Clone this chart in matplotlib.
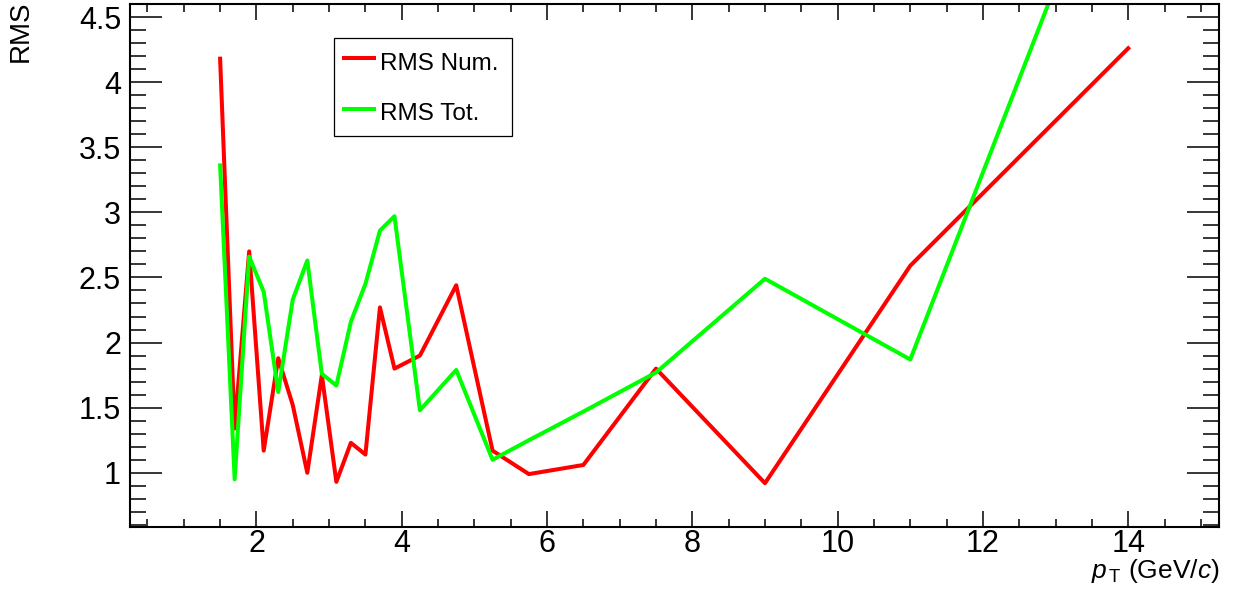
"""RMS of numerator and total versus pT."""

import matplotlib

matplotlib.use("Agg")
import matplotlib.pyplot as plt
from matplotlib.ticker import FormatStrFormatter, MultipleLocator

pt_bins = [1.5, 1.7, 1.9, 2.1, 2.3, 2.5, 2.7, 2.9, 3.1, 3.3, 3.5, 3.7, 3.9,
           4.25, 4.75, 5.25, 5.75, 6.5, 7.5, 9.0, 11.0, 14.0]
rms_num = [4.18, 1.34, 2.70, 1.17, 1.88, 1.52, 1.00, 1.75, 0.93, 1.23, 1.14,
           2.27, 1.80, 1.90, 2.44, 1.17, 0.99, 1.06, 1.80, 0.92, 2.59, 4.26]
rms_tot = [3.36, 0.95, 2.66, 2.39, 1.62, 2.33, 2.63, 1.76, 1.67, 2.16, 2.45,
           2.86, 2.97, 1.48, 1.79, 1.10, 1.25, 1.47, 1.77, 2.49, 1.87, 6.18]

plt.rcParams["font.family"] = ["Liberation Sans", "DejaVu Sans"]
plt.rcParams["mathtext.fontset"] = "custom"
plt.rcParams["mathtext.it"] = "Liberation Sans:italic"
plt.rcParams["mathtext.rm"] = "Liberation Sans"

fig = plt.figure(figsize=(12.42, 5.95), dpi=100)
ax = fig.add_axes([0.1047, 0.1148, 0.8768, 0.8785])

ax.plot(pt_bins, rms_num, color="#ff0000", lw=2.9, label="RMS Num.")
ax.plot(pt_bins, rms_tot, color="#00ff00", lw=2.9, label="RMS Tot.")

ax.set_xlim(0.26, 15.25)
ax.set_ylim(0.586, 4.6)

ax.xaxis.set_major_locator(MultipleLocator(2))
ax.xaxis.set_minor_locator(MultipleLocator(0.5))
ax.yaxis.set_major_locator(MultipleLocator(0.5))
ax.yaxis.set_minor_locator(MultipleLocator(0.1))
ax.yaxis.set_major_formatter(FormatStrFormatter("%g"))

ax.tick_params(which="both", direction="in", top=True, right=True,
               width=1.1, labelsize=22)
ax.tick_params(axis="x", which="major", length=11.5, pad=2)
ax.tick_params(axis="x", which="minor", length=5.8)
ax.tick_params(axis="y", which="major", length=23, pad=6.5)
ax.tick_params(axis="y", which="minor", length=11.5)
for spine in ax.spines.values():
    spine.set_linewidth(1.5)

ax.set_xlabel(r"$p_{\,\mathrm{T}}$ (GeV/$c$)", fontsize=19, loc="right")
ax.xaxis.set_label_coords(1.0, -0.058)
ax.set_ylabel("RMS", fontsize=20, loc="top")
ax.yaxis.set_label_coords(-0.088, 1.006)

leg = ax.legend(loc="upper left", bbox_to_anchor=(0.1873, 0.5, 0.1632, 0.4355),
                mode="expand", fontsize=17.5, frameon=True, fancybox=False,
                framealpha=1, edgecolor="black", borderaxespad=0,
                borderpad=0.4, handlelength=1.26, handleheight=1.4,
                handletextpad=0.25, labelspacing=0.92)
leg.get_frame().set_linewidth(0.9)

fig.savefig("out.png", dpi=100)
